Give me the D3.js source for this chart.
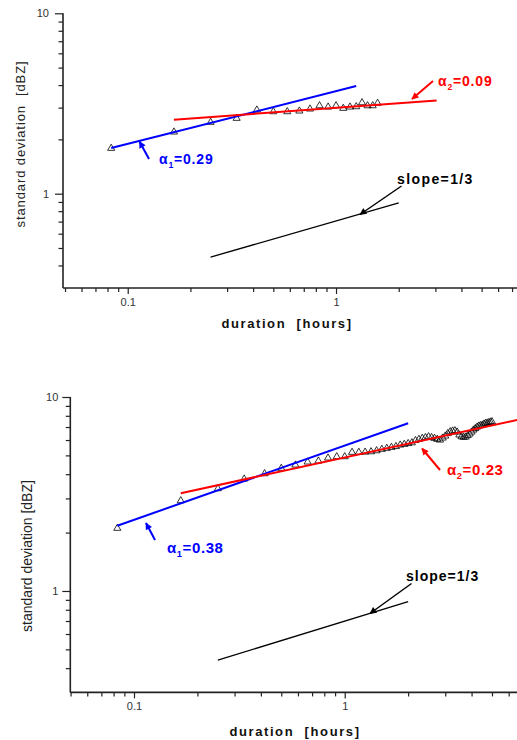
<!DOCTYPE html>
<html>
<head>
<meta charset="utf-8">
<script src="https://cdn.jsdelivr.net/npm/d3@7"></script>
<style>
  html, body { margin: 0; padding: 0; background: #fff; }
  svg { display: block; }
  text { font-family: Arial, "Liberation Sans", sans-serif; }
</style>
</head>
<body>
<svg id="chart" width="517" height="740"></svg>
<script>
// ---------------- DATA ----------------
const xMajorTicks = [0.1, 1];
const xMinorTicks = [0.05, 0.06, 0.07, 0.08, 0.09, 0.2, 0.3, 0.4, 0.5, 0.6, 0.7, 0.8, 0.9, 2, 3, 4, 5, 6, 7];
const yMajorTicks = [1, 10];
const yMinorTicks = [0.4, 0.5, 0.6, 0.7, 0.8, 0.9, 2, 3, 4, 5, 6, 7, 8, 9];

// Panel 1 (top)
const topDuration = [0.0833, 0.1667, 0.25, 0.3333, 0.4167, 0.5, 0.5833, 0.6667, 0.75, 0.8333,
  0.9167, 1.0, 1.0833, 1.1667, 1.25, 1.3333, 1.4167, 1.5, 1.5833];
const topStd = [1.785, 2.198, 2.488, 2.618, 2.91, 2.848, 2.848, 2.874, 2.948, 3.074,
  3.024, 3.074, 2.974, 3.024, 3.036, 3.195, 3.074, 3.074, 3.171];
const topFit1X = [0.0833, 1.25], topFit1Y = [1.79, 3.95];   // alpha1 = 0.29
const topFit2X = [0.1667, 3.04], topFit2Y = [2.57, 3.29];   // alpha2 = 0.09
const topRefX = [0.25, 2.0], topRefY = [0.445, 0.89];       // slope = 1/3

// Panel 2 (bottom)
const botDuration = [0.0833, 0.1667, 0.25, 0.3333, 0.4167, 0.5, 0.5833, 0.6667, 0.75, 0.8333,
  0.9167, 1.0, 1.0833, 1.1667, 1.25, 1.3333, 1.4167, 1.5, 1.5833, 1.6667,
  1.75, 1.8333, 1.9167, 2.0, 2.0833, 2.1667, 2.25, 2.3333, 2.4167, 2.5,
  2.5833, 2.6667, 2.75, 2.8333, 2.9167, 3.0, 3.0833, 3.1667, 3.25, 3.3333,
  3.4167, 3.5, 3.5833, 3.6667, 3.75, 3.8333, 3.9167, 4.0, 4.0833, 4.1667,
  4.25, 4.3333, 4.4167, 4.5, 4.5833, 4.6667, 4.75, 4.8333, 4.9167, 5.0];
const botStd = [2.105, 2.921, 3.368, 3.778, 4.024, 4.29, 4.461, 4.624, 4.679, 4.849,
  4.924, 4.924, 5.188, 5.19, 5.2, 5.224, 5.286, 5.375, 5.439, 5.503,
  5.556, 5.656, 5.703, 5.757, 5.812, 5.966, 6.053, 6.125, 6.183, 6.242,
  6.183, 6.125, 6.053, 6.0, 6.147, 6.295, 6.484, 6.624, 6.679, 6.704,
  6.601, 6.371, 6.242, 6.198, 6.22, 6.333, 6.447, 6.601, 6.76, 6.881,
  7.005, 7.088, 7.13, 7.173, 7.258, 7.318, 7.345, 7.389, 7.432, 7.459];
const botFit1X = [0.0833, 2.0], botFit1Y = [2.17, 7.32];    // alpha1 = 0.38
const botFit2X = [0.1667, 6.6], botFit2Y = [3.19, 7.62];    // alpha2 = 0.23
const botRefX = [0.25, 2.0], botRefY = [0.44, 0.88];        // slope = 1/3

const xTitle = "duration  [hours]";
const yTitle = "standard deviation  [dBZ]";

// ---------------- DRAW ----------------
const svg = d3.select("#chart");
const BLUE = "#0000ff", RED = "#ff0000";

const defs = svg.append("defs");
function mkMarker(id, color) {
  defs.append("marker")
    .attr("id", id).attr("viewBox", "0 0 10 10")
    .attr("refX", 9).attr("refY", 5)
    .attr("markerUnits", "userSpaceOnUse")
    .attr("markerWidth", 8).attr("markerHeight", 7)
    .attr("orient", "auto")
    .append("path").attr("d", "M0,0 L10,5 L0,10 z").attr("fill", color);
}
mkMarker("ah-blue", BLUE); mkMarker("ah-red", RED); mkMarker("ah-black", "#000");

function panel(cfg) {
  const g = svg.append("g");
  const x = d3.scaleLog().domain(cfg.xDomain).range(cfg.xRange);
  const y = d3.scaleLog().domain([0.3, 10]).range(cfg.yRange);
  const x0 = cfg.xRange[0], yb = cfg.yRange[0];

  // minor x ticks
  g.append("g").attr("transform", `translate(0,${yb})`)
    .call(d3.axisBottom(x).tickValues(xMinorTicks).tickSize(4).tickFormat(""))
    .call(a => a.select(".domain").remove())
    .call(a => a.selectAll("line").attr("stroke", "#222").attr("stroke-width", 1.2));
  // major x ticks
  g.append("g").attr("transform", `translate(0,${yb})`)
    .call(d3.axisBottom(x).tickValues(xMajorTicks).tickSize(6).tickPadding(4)
      .tickFormat(d => d === 1 ? "1" : "0.1"))
    .call(a => a.select(".domain").remove())
    .call(a => a.selectAll("line").attr("stroke", "#222").attr("stroke-width", 1.2))
    .call(a => a.selectAll("text").attr("font-size", 11).attr("fill", "#333")
      .attr("font-family", "Arial, 'Liberation Sans', sans-serif"));
  // minor y ticks
  g.append("g").attr("transform", `translate(${x0},0)`)
    .call(d3.axisLeft(y).tickValues(yMinorTicks).tickSize(4.5).tickFormat(""))
    .call(a => a.select(".domain").remove())
    .call(a => a.selectAll("line").attr("stroke", "#222").attr("stroke-width", 1.2));
  // major y ticks
  g.append("g").attr("transform", `translate(${x0},0)`)
    .call(d3.axisLeft(y).tickValues(yMajorTicks).tickSize(8).tickPadding(cfg.yPad)
      .tickFormat(d => String(d)))
    .call(a => a.select(".domain").remove())
    .call(a => a.selectAll("line").attr("stroke", "#222").attr("stroke-width", 1.2))
    .call(a => a.selectAll("text").attr("font-size", 11).attr("fill", "#333")
      .attr("font-family", "Arial, 'Liberation Sans', sans-serif"));

  // axis lines
  g.append("line").attr("x1", x0).attr("x2", 517).attr("y1", yb).attr("y2", yb)
    .attr("stroke", "#222").attr("stroke-width", 1.6);
  g.append("line").attr("x1", x0).attr("x2", x0).attr("y1", yb).attr("y2", cfg.yRange[1])
    .attr("stroke", "#222").attr("stroke-width", 1.6);

  // titles
  g.append("text").attr("x", cfg.xTitlePos[0]).attr("y", cfg.xTitlePos[1])
    .attr("text-anchor", "middle").attr("font-size", 13).attr("font-weight", "bold")
    .attr("letter-spacing", 1.6).attr("fill", "#111").style("white-space", "pre")
    .text(xTitle);
  g.append("text")
    .attr("transform", `translate(${cfg.yTitlePos[0]},${cfg.yTitlePos[1]}) rotate(-90)`)
    .attr("text-anchor", "middle").attr("dominant-baseline", "central")
    .attr("font-size", cfg.yTitleSize).attr("letter-spacing", cfg.yTitleSpacing)
    .attr("fill", "#222").style("white-space", "pre")
    .text(cfg.yTitleText);

  // data markers
  const tri = d3.symbol().type(d3.symbolTriangle).size(22);
  g.append("g").selectAll("path").data(cfg.dur.map((d, i) => [d, cfg.std[i]]))
    .join("path")
    .attr("d", tri)
    .attr("transform", d => `translate(${x(d[0])},${y(d[1])})`)
    .attr("fill", "none").attr("stroke", "#000").attr("stroke-width", 0.8);

  // fit lines
  const line = d3.line().x(d => x(d[0])).y(d => y(d[1]));
  function seg(xs, ys, color, w) {
    g.append("path").attr("d", line(xs.map((v, i) => [v, ys[i]])))
      .attr("fill", "none").attr("stroke", color).attr("stroke-width", w);
  }
  seg(cfg.fit1X, cfg.fit1Y, BLUE, 2);
  seg(cfg.fit2X, cfg.fit2Y, RED, 2);
  seg(cfg.refX, cfg.refY, "#000", 1.3);

  // annotations
  cfg.notes.forEach(n => {
    g.append("line").attr("x1", n.tail[0]).attr("y1", n.tail[1])
      .attr("x2", n.head[0]).attr("y2", n.head[1])
      .attr("stroke", n.color).attr("stroke-width", n.w)
      .attr("marker-end", `url(#${n.marker})`);
    const t = g.append("text").attr("x", n.pos[0]).attr("y", n.pos[1])
      .attr("font-size", n.size).attr("font-weight", "bold").attr("fill", n.color)
      .attr("letter-spacing", n.ls);
    if (n.sub) {
      t.append("tspan").text("α");
      t.append("tspan").attr("font-size", n.size * 0.62).attr("dy", 4).text(n.sub);
      t.append("tspan").attr("dy", -4).text(n.rest);
    } else {
      t.text(n.rest);
    }
  });
}

panel({
  xDomain: [0.0489, 7.5], xRange: [63, 518.3], yRange: [288, 13.3], yPad: 6,
  dur: topDuration, std: topStd,
  fit1X: topFit1X, fit1Y: topFit1Y, fit2X: topFit2X, fit2Y: topFit2Y, refX: topRefX, refY: topRefY,
  xTitlePos: [287, 328], yTitlePos: [20, 144], yTitleSize: 13, yTitleSpacing: 0.9,
  yTitleText: yTitle,
  notes: [
    { tail: [149, 159], head: [139.5, 141.5], color: BLUE, marker: "ah-blue", w: 2,
      pos: [159, 164], size: 14, ls: 0.8, sub: "1", rest: "=0.29" },
    { tail: [433, 81], head: [412, 99], color: RED, marker: "ah-red", w: 2,
      pos: [438, 86], size: 14, ls: 0.8, sub: "2", rest: "=0.09" },
    { tail: [401.5, 186], head: [360, 214.5], color: "#000", marker: "ah-black", w: 1.5,
      pos: [397, 184], size: 14, ls: 1.4, rest: "slope=1/3" }
  ]
});

panel({
  xDomain: [0.04985, 6.6], xRange: [70.3, 517.4], yRange: [692.4, 397], yPad: 4,
  dur: botDuration, std: botStd,
  fit1X: botFit1X, fit1Y: botFit1Y, fit2X: botFit2X, fit2Y: botFit2Y, refX: botRefX, refY: botRefY,
  xTitlePos: [295, 736], yTitlePos: [27, 556], yTitleSize: 14, yTitleSpacing: 0,
  yTitleText: "standard deviation [dBZ]",
  notes: [
    { tail: [155, 540], head: [146, 523], color: BLUE, marker: "ah-blue", w: 2,
      pos: [167, 553], size: 15, ls: 0.6, sub: "1", rest: "=0.38" },
    { tail: [440, 470], head: [422, 448.5], color: RED, marker: "ah-red", w: 2,
      pos: [447, 475], size: 15, ls: 0.6, sub: "2", rest: "=0.23" },
    { tail: [411.5, 583.5], head: [370, 613.5], color: "#000", marker: "ah-black", w: 1.5,
      pos: [406, 581], size: 14, ls: 1.0, rest: "slope=1/3" }
  ]
});
</script>
</body>
</html>
